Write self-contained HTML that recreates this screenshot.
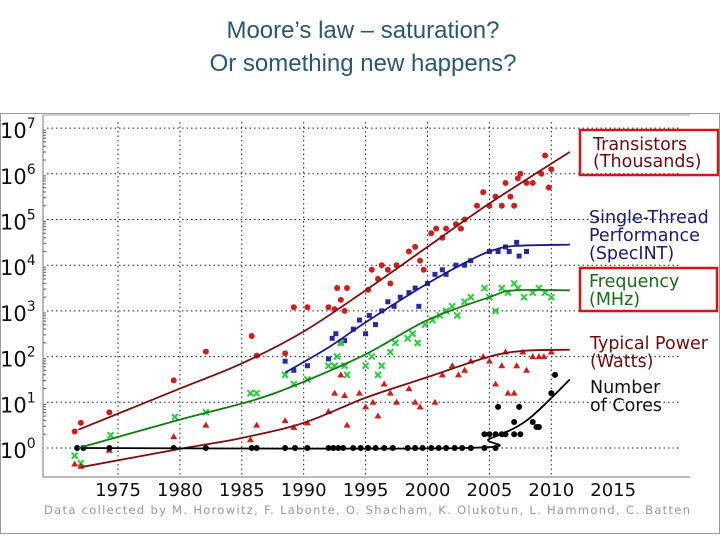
<!DOCTYPE html>
<html><head><meta charset="utf-8"><style>
body{margin:0;background:#fff;width:720px;height:540px;overflow:hidden;font-family:"DejaVu Sans","Liberation Sans",sans-serif}
.t{position:absolute;left:0;width:726px;text-align:center;font-family:"Liberation Sans",sans-serif;font-size:24px;color:#2a5a68}
</style></head><body>
<div class="t" style="top:17px">Moore’s law – saturation?</div>
<div class="t" style="top:50px">Or something new happens?</div>
<svg id="c" width="720" height="540" style="position:absolute;left:0;top:0"></svg>
<script>
const xTicks=[1975,1980,1985,1990,1995,2000,2005,2010,2015];
const yTicks=[0,1,2,3,4,5,6,7];
const transYears=[1971.5,1972,1974.3,1979.5,1982.1,1985.8,1986.2,1988.5,1989.2,1990.3,1992,1992.5,1993,1993.3,1992.7,1993.5,1995.2,1995.5,1996,1996.3,1996.8,1997.5,1997,1998.5,1999,1999.4,1999.7,2000.3,2000.7,2001.2,2001.5,2002.3,2002.7,2003,2004,2004.5,2005,2005.5,2006,2006.3,2006.7,2007,2007.3,2007.5,2008,2008.5,2009.2,2009.5,2009.8,2010];
const transVals=[0.36,0.55,0.78,1.48,2.11,2.45,2.02,2.07,3.08,3.08,3.08,3.04,3.24,3.0,3.5,3.5,3.46,3.9,3.7,4.0,3.9,4.0,3.6,4.3,4.4,4.1,3.9,4.7,4.8,4.6,4.8,4.9,4.8,5.0,5.3,5.6,5.3,5.5,5.3,5.8,5.5,5.3,5.9,6.0,5.8,5.8,6.0,6.4,5.7,6.1];
const perfYears=[1988.5,1989.2,1990.3,1992,1992.3,1992.6,1993,1993.3,1994,1994.5,1995,1995.3,1995.8,1996.3,1996.8,1997.3,1997.8,1998.5,1999,1999.3,2000,2000.6,2001.2,2001.5,2002.3,2003,2003.5,2005,2005.7,2006.3,2006.6,2007.2,2007.4,2008];
const perfVals=[1.9,1.7,1.8,1.95,2.4,2.5,2.3,2.35,2.6,2.8,2.5,2.9,2.7,3.0,3.2,3.1,3.3,3.4,3.5,3.1,3.6,3.8,3.9,3.8,4.0,4.0,4.1,4.3,4.3,4.4,4.3,4.5,4.2,4.3];
const freqYears=[1971.5,1972,1974.4,1979.6,1982.1,1985.7,1986.2,1988.5,1989.2,1990.3,1992,1992.5,1992.7,1993.3,1993.5,1993,1995,1995.5,1996,1996.3,1997,1997.4,1998.4,1998.8,1999.2,1999.8,2000.4,2001,2001.5,2002,2002.4,2003,2003.5,2004.6,2005,2005.5,2006,2006.5,2007,2007.3,2007.8,2008.5,2009,2009.5,2010];
const freqVals=[-0.17,-0.33,0.28,0.68,0.78,1.2,1.2,1.6,1.4,1.5,1.8,1.8,2.0,1.8,1.6,2.3,1.8,2.0,1.6,1.8,2.1,2.3,2.4,2.5,2.3,2.7,2.8,2.9,3.0,3.1,2.9,3.2,3.3,3.5,3.3,3.0,3.5,3.4,3.6,3.5,3.3,3.4,3.5,3.4,3.3];
const powYears=[1971.5,1972,1974.3,1979.5,1982.1,1985.7,1986.2,1988.5,1989.2,1990.3,1992,1992.5,1993,1993.3,1993.5,1994.5,1995,1995.6,1996,1996.5,1997,1997.5,1998.5,1999,1999.4,2000.6,2001.2,2002,2002.5,2003,2003.5,2004.5,2005,2005.5,2006,2006.3,2006.5,2007,2007.2,2007.7,2008,2008.5,2009,2009.4,2010];
const powVals=[-0.35,-0.4,-0.05,0.25,0.5,0.18,0.5,0.6,0.45,0.55,0.8,1.2,1.6,1.15,0.5,1.2,0.9,1.0,0.7,1.4,1.2,1.0,1.3,1.0,0.9,1.0,1.6,1.8,1.6,1.7,1.9,2.0,1.9,1.4,1.8,2.1,1.2,1.2,1.8,2.1,1.7,2.0,2.0,2.0,2.1];
const coreYears=[1971.7,1972.2,1974.3,1979.5,1982.1,1985.8,1986.2,1988.5,1989.3,1990.3,1992,1992.4,1992.8,1993.2,1994,1994.6,1995.2,1995.8,1996.5,1997.2,1998.4,1999,1999.6,2000.3,2000.9,2001.5,2002.2,2002.8,2003.5,2004.6,2005.5,2004.6,2005,2005.5,2006,2006.3,2007,2007.5,2005.7,2007.4,2007,2008.5,2009,2008.8,2010,2010.3];
const coreVals=[0,0,0,0,0,0,0,0,0,0,0,0,0,0,0,0,0,0,0,0,0,0,0,0,0,0,0,0,0,0,0,0.3,0.3,0.3,0.3,0.3,0.3,0.3,0.9,0.9,0.57,0.57,0.46,0.46,1.2,1.6];
const transTrendYears=[1971.8,1980,1985,1990,1995,2000,2005,2011.5];
const transTrendVals=[0.4,1.3,1.85,2.55,3.45,4.4,5.35,6.48];
const perfTrendYears=[1988.5,1992,1995,2000,2003,2005,2007,2011.5];
const perfTrendVals=[1.65,2.2,2.75,3.6,4.05,4.3,4.42,4.45];
const freqTrendYears=[1971.8,1980,1986,1990,1995,2000,2005,2007,2011.5];
const freqTrendVals=[0,0.62,1.05,1.45,2.05,2.8,3.3,3.45,3.45];
const powTrendYears=[1972,1980,1985,1990,1995,2000,2005,2008,2011.5];
const powTrendVals=[-0.42,-0.02,0.22,0.55,1.1,1.55,2.0,2.13,2.15];
const coreTrendYears=[1972,2003,2005,2008,2011.5];
const coreTrendVals=[0,0,0.2,0.6,1.5];

const X=y=>118+(y-1975)*12.38;
const Y=v=>448-v*45.7;
const NS="http://www.w3.org/2000/svg";
const svg=document.getElementById('c');
function mk(t,a){const e=document.createElementNS(NS,t);for(const k in a)e.setAttribute(k,a[k]);svg.appendChild(e);return e;}
let e;
e=mk('rect',{x:0.5,y:113.5,width:719,height:420,fill:'none',stroke:'#999'});


xTicks.forEach(t=>{
 if(t<2015){e=mk('line',{x1:X(t),x2:X(t),y1:122,y2:477,stroke:'#222','stroke-dasharray':'1.5,3','stroke-width':1});
 }
 e=mk('text',{x:X(t),y:496,'text-anchor':'middle','font-size':18,fill:'#111'});e.textContent=t;
 
 
});
yTicks.forEach(t=>{
 e=mk('line',{x1:47,x2:680,y1:Y(t),y2:Y(t),stroke:'#222','stroke-dasharray':'1.5,3','stroke-width':1});
 
 e=mk('text',{x:0,y:Y(t)+10,'font-size':21,fill:'#111'});e.innerHTML='10<tspan dy="-10" font-size="14">'+t+'</tspan>';
 
 
 for(let m=2;m<10;m++){if(t==7)break;const yy=Y(t+Math.log10(m));mk('line',{x1:43,x2:46,y1:yy,y2:yy,stroke:'#555'});}
});
e=mk('path',{d:'M43,115 V477 H690',fill:'none',stroke:'#777'});

mk('line',{x1:43,x2:690,y1:115,y2:115,stroke:'#aaa'});
function trend(ys,vs,col,name){
 let pts=ys.map((y,i)=>[X(y),Y(vs[i])]);
 let d='M'+pts[0];
 for(let i=1;i<pts.length;i++){const p0=pts[i-1],p1=pts[i];const pm=pts[i-2]||p0,pn=pts[i+1]||p1;
  const c1=[p0[0]+(p1[0]-pm[0])/6,p0[1]+(p1[1]-pm[1])/6],c2=[p1[0]-(pn[0]-p0[0])/6,p1[1]-(pn[1]-p0[1])/6];
  d+=' C'+c1+' '+c2+' '+p1;}
 e=mk('path',{d:d,fill:'none',stroke:col,'stroke-width':1.8});
 
}
function pts(ys,vs,kind,col,name){
 ys.forEach((y,i)=>{const cx=X(y),cy=Y(vs[i]);
  if(kind=='c')e=mk('circle',{cx:cx,cy:cy,r:3,fill:col});
  else if(kind=='s')e=mk('rect',{x:cx-2.5,y:cy-2.5,width:5,height:5,fill:col});
  else if(kind=='t')e=mk('path',{d:`M${cx},${cy-3.5}L${cx+3.5},${cy+2.5}L${cx-3.5},${cy+2.5}Z`,fill:col});
  else e=mk('path',{d:`M${cx-3},${cy-3}L${cx+3},${cy+3}M${cx+3},${cy-3}L${cx-3},${cy+3}`,stroke:col,'stroke-width':2});
  
  
 });
}
pts(transYears,transVals,'c','#cc1f1f','transistor-point');
pts(perfYears,perfVals,'s','#2a2aa0','performance-point');
pts(freqYears,freqVals,'x','#2ecc40','frequency-point');
pts(powYears,powVals,'t','#cc1f1f','power-point');
pts(coreYears,coreVals,'c','#000','cores-point');
trend(transTrendYears,transTrendVals,'#7a1010','transistor-trend');
trend(perfTrendYears,perfTrendVals,'#1a1a80','performance-trend');
trend(freqTrendYears,freqTrendVals,'#147a14','frequency-trend');
trend(powTrendYears,powTrendVals,'#7a1010','power-trend');
trend(coreTrendYears,coreTrendVals,'#000','cores-trend');
const labs=[[593,150,'Transistors','#6a0d0d'],[593,167,'(Thousands)','#6a0d0d'],[589,223,'Single-Thread','#1a1a70'],[589,241,'Performance','#1a1a70'],[589,259,'(SpecINT)','#1a1a70'],[589,287,'Frequency','#1a6b1a'],[589,305,'(MHz)','#1a6b1a'],[590,349,'Typical Power','#6a0d0d'],[590,367,'(Watts)','#6a0d0d'],[590,393,'Number','#111'],[590,411,'of Cores','#111']];
labs.forEach(l=>{e=mk('text',{x:l[0],y:l[1],'font-size':17.5,fill:l[3]});e.textContent=l[2];
 });
e=mk('rect',{x:580,y:130,width:138,height:45,fill:'none',stroke:'#d01818','stroke-width':2.5});

e=mk('rect',{x:580,y:268,width:137,height:43,fill:'none',stroke:'#d01818','stroke-width':2.5});

e=mk('text',{x:44,y:514,'font-size':11.5,fill:'#999',textLength:646});e.textContent='Data collected by M. Horowitz, F. Labonte, O. Shacham, K. Olukotun, L. Hammond, C. Batten';

</script>
</body></html>
